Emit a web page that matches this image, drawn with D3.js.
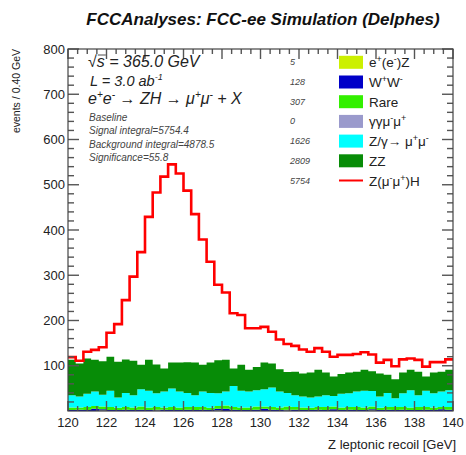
<!DOCTYPE html>
<html><head><meta charset="utf-8">
<script src="https://cdn.jsdelivr.net/npm/d3@7/dist/d3.min.js"></script>
<style>
html,body{margin:0;padding:0;background:#fff;}
svg text{font-family:"Liberation Sans",Arial,Helvetica,sans-serif;}
</style></head>
<body><svg id="c" width="466" height="455"></svg>
<script>
// ---- data (events per 0.40 GeV bin, 120-140 GeV) ----
const binStart = 120, binWidth = 0.4;
const binLabels = d3.range(50).map(i => +(binStart + i * binWidth).toFixed(1));
const eeZ   = [0,0,0,0,1,0,0,0,0,0,0,1,0,0,0,0,0,0,0,1,0,0,0,0,0,0,0,0,1,0,0,0,0,0,0,0,0,0,0,1,0,0,0,0,0,0,0,0,0,0];
const WW    = [2,3,2,5,3,2,2,3,2,3,2,2,3,2,2,3,2,3,2,4,5,3,2,2,3,5,3,2,2,3,2,2,3,2,4,2,3,2,2,3,2,3,2,3,2,2,3,2,4,3];
const Rare  = [6,5,7,6,6,7,5,6,6,7,6,6,5,7,6,6,7,6,5,6,7,6,6,6,7,5,6,6,7,6,6,5,6,7,6,6,6,7,6,6,5,6,7,6,6,7,6,6,5,6];
const GGMM  = new Array(50).fill(0);
const ZGamma= [27,24,29,32,26,36,23,31,27,38,37,30,35,41,35,31,26,34,33,28,31,46,37,35,36,38,43,35,30,26,24,23,23,26,23,30,30,34,37,34,25,31,19,30,38,26,36,31,34,37];
const ZZ    = [78,73,78,70,74,75,79,74,76,54,68,64,51,57,64,68,72,59,67,73,70,39,57,48,51,59,53,49,46,52,51,55,59,50,43,44,46,44,46,44,51,40,42,46,45,52,31,46,44,45];
const Signal= [6,6,15,22,31,53,83,131,186,249,316,380,424,438,418,379,328,277,223,167,149,122,110,92,86,79,70,66,62,57,53,46,48,46,44,42,39,39,39,37,24,33,29,29,25,26,22,23,21,23];
const legendNames  = ["e<sup>+</sup>(e<sup>-</sup>)Z","W<sup>+</sup>W<sup>-</sup>","Rare","γγμ<sup>-</sup>μ<sup>+</sup>","Z/γ→ μ<sup>+</sup>μ<sup>-</sup>","ZZ","Z(μ<sup>-</sup>μ<sup>+</sup>)H"];
const legendCounts = ["5","128","307","0","1626","2809","5754"];
const xTicks = [120,122,124,126,128,130,132,134,136,138,140];
const yTicks = [100,200,300,400,500,600,700,800];
const infoLines = ["Baseline","Signal integral=5754.4","Background integral=4878.5","Significance=55.8"];

const keys = ["eeZ","WW","Rare","GGMM","ZGamma","ZZ","Signal"];
const colors = {eeZ:"#ccf000",WW:"#0000c8",Rare:"#33f000",GGMM:"#9a9acc",ZGamma:"#00ffff",ZZ:"#078c07",Signal:"#ff0000"};
const series = {eeZ,WW,Rare,GGMM,ZGamma,ZZ,Signal};
const rows = binLabels.map((b,i)=>{const r={x0:b,x1:b+binWidth};keys.forEach(k=>r[k]=series[k][i]);return r;});

const svg = d3.select("#c");
const L=68,R=453,T=49,B=411;
const x = d3.scaleLinear().domain([120,140]).range([L,R]);
const y = d3.scaleLinear().domain([0,800]).range([B,T]);

const stacked = d3.stack().keys(keys)(rows);
function stepPts(s){const p=[];s.forEach(d=>{p.push({x:d.data.x0,y0:d[0],y1:d[1]});p.push({x:d.data.x1,y0:d[0],y1:d[1]});});return p;}

const g = svg.append("g");
stacked.forEach(s=>{
  if(s.key==="Signal") return;
  const area = d3.area().x(d=>x(d.x)).y0(d=>y(d.y0)).y1(d=>y(d.y1));
  g.append("path").attr("d",area(stepPts(s))).attr("fill",colors[s.key]).attr("stroke","none");
});
const sig = stacked.find(s=>s.key==="Signal");
g.append("path").attr("d",d3.line().x(d=>x(d.x)).y(d=>y(d.y1))(stepPts(sig)))
  .attr("fill","none").attr("stroke",colors.Signal).attr("stroke-width",2.6);

// ticks (drawn inward on all four sides)
const xMinor = d3.range(120,140.01,0.5).filter(v=>Math.abs(v/2-Math.round(v/2))>1e-6);
const yMinor = d3.range(0,800.01,20).filter(v=>v%100!==0);
const tk = svg.append("g");
function seg(x1,y1,x2,y2){tk.append("line").attr("x1",x1).attr("y1",y1).attr("x2",x2).attr("y2",y2).attr("stroke","#555").attr("stroke-width",1.4);}
xTicks.concat(xMinor).forEach(v=>{const len=xTicks.includes(v)?10:5;const px=x(v);seg(px,B,px,B-len);seg(px,T,px,T+len);});
yTicks.concat(yMinor).forEach(v=>{const len=yTicks.includes(v)?11:6;const py=y(v);seg(L,py,L+len,py);seg(R,py,R-len,py);});
svg.append("rect").attr("x",L).attr("y",T).attr("width",R-L).attr("height",B-T).attr("fill","none").attr("stroke","#444").attr("stroke-width",1.2);

// tick labels
xTicks.forEach(v=>svg.append("text").attr("x",x(v)).attr("y",427).attr("text-anchor","middle").style("font-size","13px").attr("fill","#222").text(d3.format("d")(v)));
yTicks.forEach(v=>svg.append("text").attr("x",65).attr("y",y(v)+4.5).attr("text-anchor","end").style("font-size","13px").attr("fill","#222").text(d3.format("d")(v)));

// titles
svg.append("text").attr("x",263).attr("y",25).attr("text-anchor","middle").style("font-size","17px").style("font-weight","bold").style("font-style","italic").attr("fill","#111").text("FCCAnalyses: FCC-ee Simulation (Delphes)");
svg.append("text").attr("transform",`translate(20,${T}) rotate(-90)`).attr("text-anchor","end").style("font-size","10.5px").attr("fill","#222").text("events / 0.40 GeV");
svg.append("text").attr("x",456).attr("y",449).attr("text-anchor","end").style("font-size","13px").attr("fill","#222").text("Z leptonic recoil [GeV]");

// info text
const t1 = svg.append("text").attr("x",88).attr("y",67).style("font-size","16px").style("font-style","italic").attr("fill","#222");
t1.append("tspan").text("√");
const sSpan = t1.append("tspan").text("s");
t1.append("tspan").text(" = 365.0 GeV");
const t2 = svg.append("text").attr("x",90).attr("y",86).style("font-size","14.5px").style("font-style","italic").attr("fill","#222");
t2.append("tspan").text("L = 3.0 ab");
t2.append("tspan").attr("dy",-6).style("font-size","9px").text("-1");
const t3 = svg.append("text").attr("x",88).attr("y",104).style("font-size","16px").style("font-style","italic").attr("fill","#222");
t3.append("tspan").text("e");
t3.append("tspan").attr("dy",-6).style("font-size","10px").text("+");
t3.append("tspan").attr("dy",6).text("e");
t3.append("tspan").attr("dy",-6).style("font-size","10px").text("-");
t3.append("tspan").attr("dy",6).text(" → ZH → μ");
t3.append("tspan").attr("dy",-6).style("font-size","10px").text("+");
t3.append("tspan").attr("dy",6).text("μ");
t3.append("tspan").attr("dy",-6).style("font-size","10px").text("-");
t3.append("tspan").attr("dy",6).text(" + X");
try{const bb=sSpan.node().getExtentOfChar(0);svg.append("line").attr("x1",bb.x+1).attr("x2",bb.x+bb.width+1).attr("y1",bb.y+2).attr("y2",bb.y+2).attr("stroke","#222").attr("stroke-width",0.8);}catch(e){}
infoLines.forEach((s,i)=>svg.append("text").attr("x",89).attr("y",121+13.4*i).style("font-size","10px").style("font-style","italic").attr("fill","#444").text(s));

// legend
const lg = svg.append("g");
keys.forEach((k,i)=>{
  const cy = 62.3 + 19.7*i;
  lg.append("text").attr("x",290).attr("y",cy+3).style("font-size","9px").style("font-style","italic").attr("fill","#444").text(legendCounts[i]);
  if(k==="Signal") lg.append("line").attr("x1",339).attr("x2",363).attr("y1",cy).attr("y2",cy).attr("stroke",colors[k]).attr("stroke-width",2);
  else lg.append("rect").attr("x",339).attr("y",cy-6.5).attr("width",24).attr("height",13).attr("fill",colors[k]);
  const tx = lg.append("text").attr("x",369).attr("y",cy+5).style("font-size","13.5px").attr("fill","#222");
  const parts = legendNames[i].split(/(<sup>.*?<\/sup>)/).filter(p=>p.length);
  let up=false;
  parts.forEach(p=>{
    if(p.startsWith("<sup>")){tx.append("tspan").attr("dy",up?0:-5).style("font-size","9px").text(p.replace(/<\/?sup>/g,""));up=true;}
    else{tx.append("tspan").attr("dy",up?5:0).text(p);up=false;}
  });
});
</script></body></html>
